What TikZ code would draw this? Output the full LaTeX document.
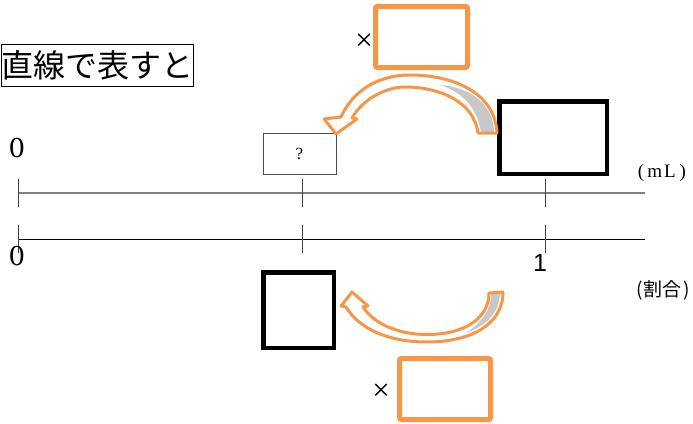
\documentclass[tikz,border=0pt]{standalone}
\usepackage{fontspec}
\setmainfont{Liberation Serif}
\newfontfamily\jp{Noto Sans CJK JP}
\newfontfamily\mysansfont{Liberation Sans}
\newfontfamily\myserifdigits{DejaVu Serif}
\definecolor{orarrow}{RGB}{247,150,70}
\definecolor{greyfill}{RGB}{200,200,200}
\begin{document}
\begin{tikzpicture}[x=1pt,y=-1pt,
  obox/.style={draw=orarrow, line width=5pt, rounded corners=2pt, inner sep=0pt},
  kbox/.style={draw=black, line width=4.5pt, inner sep=0pt},
  qbox/.style={draw=black!70, line width=1pt, inner sep=0pt},
  arrfill/.style={fill=white},
  arrline/.style={draw=orarrow, line width=3pt, line join=round},
  numline/.style={line width=1pt},
  tickline/.style={draw=black!75, line width=1pt},
  lab/.style={inner sep=0pt}
]
\useasboundingbox (0,0) rectangle (693,423);

% title
\node[lab, draw=black, line width=1.5pt, minimum width=192pt, minimum height=42pt, anchor=north west,
      font=\jp\fontsize{32pt}{32pt}\selectfont] (title) at (0.75,43.5) {直線で表すと};

% number lines
\coordinate (u0) at (18,193);
\coordinate (uq) at (302,193);
\coordinate (u1) at (545,193);
\coordinate (uend) at (645,193);
\coordinate (l0) at (18,239);
\coordinate (lq) at (302,239);
\coordinate (l1) at (545,239);
\coordinate (lend) at (645,239);
\draw[numline, draw=black!50, line width=1.6pt] (u0) -- (uend);
\draw[numline, draw=black] (l0) -- (lend);
\foreach \p in {u0,uq,u1,l0,lq,l1}{
  \draw[tickline] ([yshift=-14pt]\p) -- ([yshift=14pt]\p);
}

% labels
\node[lab, font=\myserifdigits\fontsize{26pt}{26pt}\selectfont] (zeroU) at (17,148) {0};
\node[lab, font=\myserifdigits\fontsize{26pt}{26pt}\selectfont] (zeroL) at (17,256) {0};
\node[lab, font=\mysansfont\fontsize{25pt}{25pt}\selectfont] (one) at (540,263) {1};
\node[lab, font=\fontsize{19pt}{19pt}\selectfont] (ml) at (662,173) {(\hspace{3pt}m\hspace{2pt}L\hspace{4pt})};
\node[lab, font=\jp\fontsize{19pt}{19pt}\selectfont] (wariai) at (663,290) {(\kern1pt割合\kern1pt)};

% boxes
\node[obox, minimum width=92pt, minimum height=61pt] (oU) at (421.5,37) {};
\node[obox, minimum width=91pt, minimum height=61pt] (oL) at (445,389) {};
\node[kbox, minimum width=107.5pt, minimum height=72.5pt] (kU) at (553,137.5) {};
\node[kbox, minimum width=70.5pt, minimum height=75.5pt] (kL) at (298.5,310) {};
\node[qbox, minimum width=73pt, minimum height=41pt, font=\fontsize{17pt}{17pt}\selectfont] (q) at (299.5,153.5) {?};
\node[lab, font=\fontsize{31pt}{31pt}\selectfont] (xU) at (364,42) {×};
\node[lab, font=\fontsize{31pt}{31pt}\selectfont] (xL) at (381,392) {×};

% upper curved block arrow
\def\upperarrow{(497,133) .. controls (495,92) and (452,75) .. (410,75)
  .. controls (377,75) and (352,92) .. (341,117) -- (324,119) -- (336,134) -- (357,119) -- (352,118)
  .. controls (362,100) and (385,87) .. (405,87) .. controls (440,87) and (474,102) .. (478,133) -- cycle}
\path[arrfill] \upperarrow;
\fill[greyfill] (481,133) .. controls (478,108) and (462,92) .. (440,85) .. controls (470,87) and (494,104) .. (494,133) -- cycle;
\path[arrline] \upperarrow;

% lower curved block arrow
\def\lowerarrow{(503,292) .. controls (503,325) and (470,342) .. (427,342)
  .. controls (390,342) and (360,330) .. (346,307) -- (341,306) -- (352,292) -- (368,306) -- (363,307)
  .. controls (375,325) and (400,334.5) .. (427,334.5) .. controls (465,334.5) and (489,318) .. (489,293) -- cycle}
\path[arrfill] \lowerarrow;
\fill[greyfill] (491,294) -- (500,294) .. controls (499,312) and (488,325) .. (466,333) .. controls (482,322) and (491,310) .. (491,294) -- cycle;
\path[arrline] \lowerarrow;
\end{tikzpicture}
\end{document}
